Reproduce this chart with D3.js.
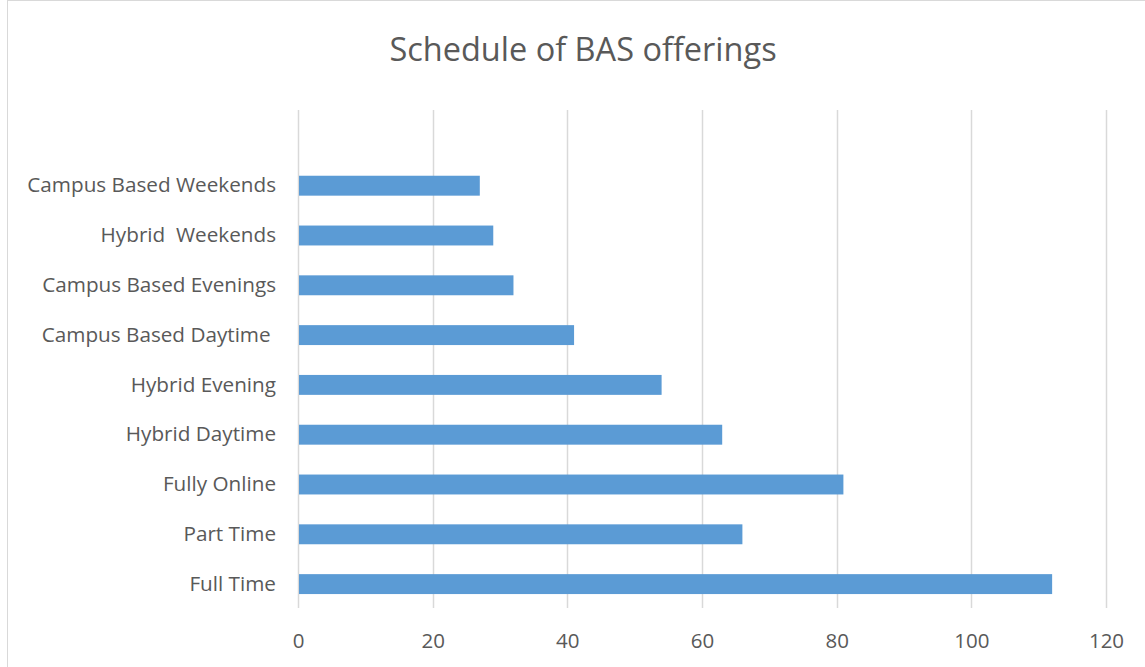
<!DOCTYPE html>
<html>
<head>
<meta charset="utf-8">
<script src="https://cdn.jsdelivr.net/npm/d3@7"></script>
<style>
  body { margin: 0; background: #fff; }
  svg { display: block; font-family: "Open Sans", sans-serif; }
</style>
</head>
<body>
<div class="plot"></div>
<script>
// data, bottom to top as drawn
var categories = ["Full Time", "Part Time", "Fully Online", "Hybrid Daytime", "Hybrid Evening",
  "Campus Based Daytime ", "Campus Based Evenings", "Hybrid  Weekends", "Campus Based Weekends"];
var values = [112, 66, 81, 63, 54, 41, 32, 29, 27];
var x_ticks = [0, 20, 40, 60, 80, 100, 120];

var width = 1145, height = 667;
var margin = {top: 110, right: 39, bottom: 59, left: 298};

var svg = d3.select(".plot")
  .append("svg")
  .attr("width", width)
  .attr("height", height);

// chart border
svg.append("rect")
  .attr("x", 7.5)
  .attr("y", 0.5)
  .attr("width", width)
  .attr("height", height)
  .attr("fill", "none")
  .attr("stroke", "#d9d9d9");

var plot_bottom = height - margin.bottom;

var x = d3.scaleLinear()
  .domain([0, 120])
  .range([margin.left, width - margin.right]);

// one empty slot at the top, like the source chart
var step = (plot_bottom - margin.top) / (categories.length + 1);
var y = d3.scaleBand()
  .domain(categories)
  .range([plot_bottom, plot_bottom - step * categories.length])
  .paddingInner(0.6)
  .paddingOuter(0.3);

// gridlines
svg.append("g")
  .selectAll("line")
  .data(x_ticks)
  .enter()
  .append("line")
  .attr("x1", function(d) { return Math.round(x(d)) + 0.5; })
  .attr("x2", function(d) { return Math.round(x(d)) + 0.5; })
  .attr("y1", margin.top)
  .attr("y2", plot_bottom)
  .attr("stroke", "#d9d9d9")
  .attr("stroke-width", 1.5);

// bars
svg.append("g")
  .selectAll("rect")
  .data(values)
  .enter()
  .append("rect")
  .attr("x", x(0) + 1)
  .attr("y", function(d, i) { return y(categories[i]) + 1; })
  .attr("width", function(d) { return x(d) - x(0) - 1; })
  .attr("height", y.bandwidth())
  .attr("fill", "#5b9bd5");

// x axis labels
var x_axis = svg.append("g")
  .attr("transform", "translate(0," + (plot_bottom + 15) + ")")
  .call(d3.axisBottom(x).tickValues(x_ticks).tickSize(0).tickPadding(10));
x_axis.select(".domain").remove();
x_axis.selectAll("text")
  .attr("fill", "#595959")
  .style("font-size", "20.5px")
  .style("font-family", "Open Sans, sans-serif");

// y axis labels
var y_axis = svg.append("g")
  .attr("transform", "translate(" + (margin.left - 22) + ",1)")
  .call(d3.axisLeft(y).tickSize(0).tickPadding(0));
y_axis.select(".domain").remove();
y_axis.selectAll("text")
  .attr("fill", "#595959")
  .style("white-space", "pre")
  .style("font-size", "20.7px")
  .style("font-family", "Open Sans, sans-serif");

// title
svg.append("text")
  .attr("x", 583)
  .attr("y", 61)
  .attr("text-anchor", "middle")
  .attr("fill", "#595959")
  .style("font-size", "32.5px")
  .text("Schedule of BAS offerings");
</script>
</body>
</html>
